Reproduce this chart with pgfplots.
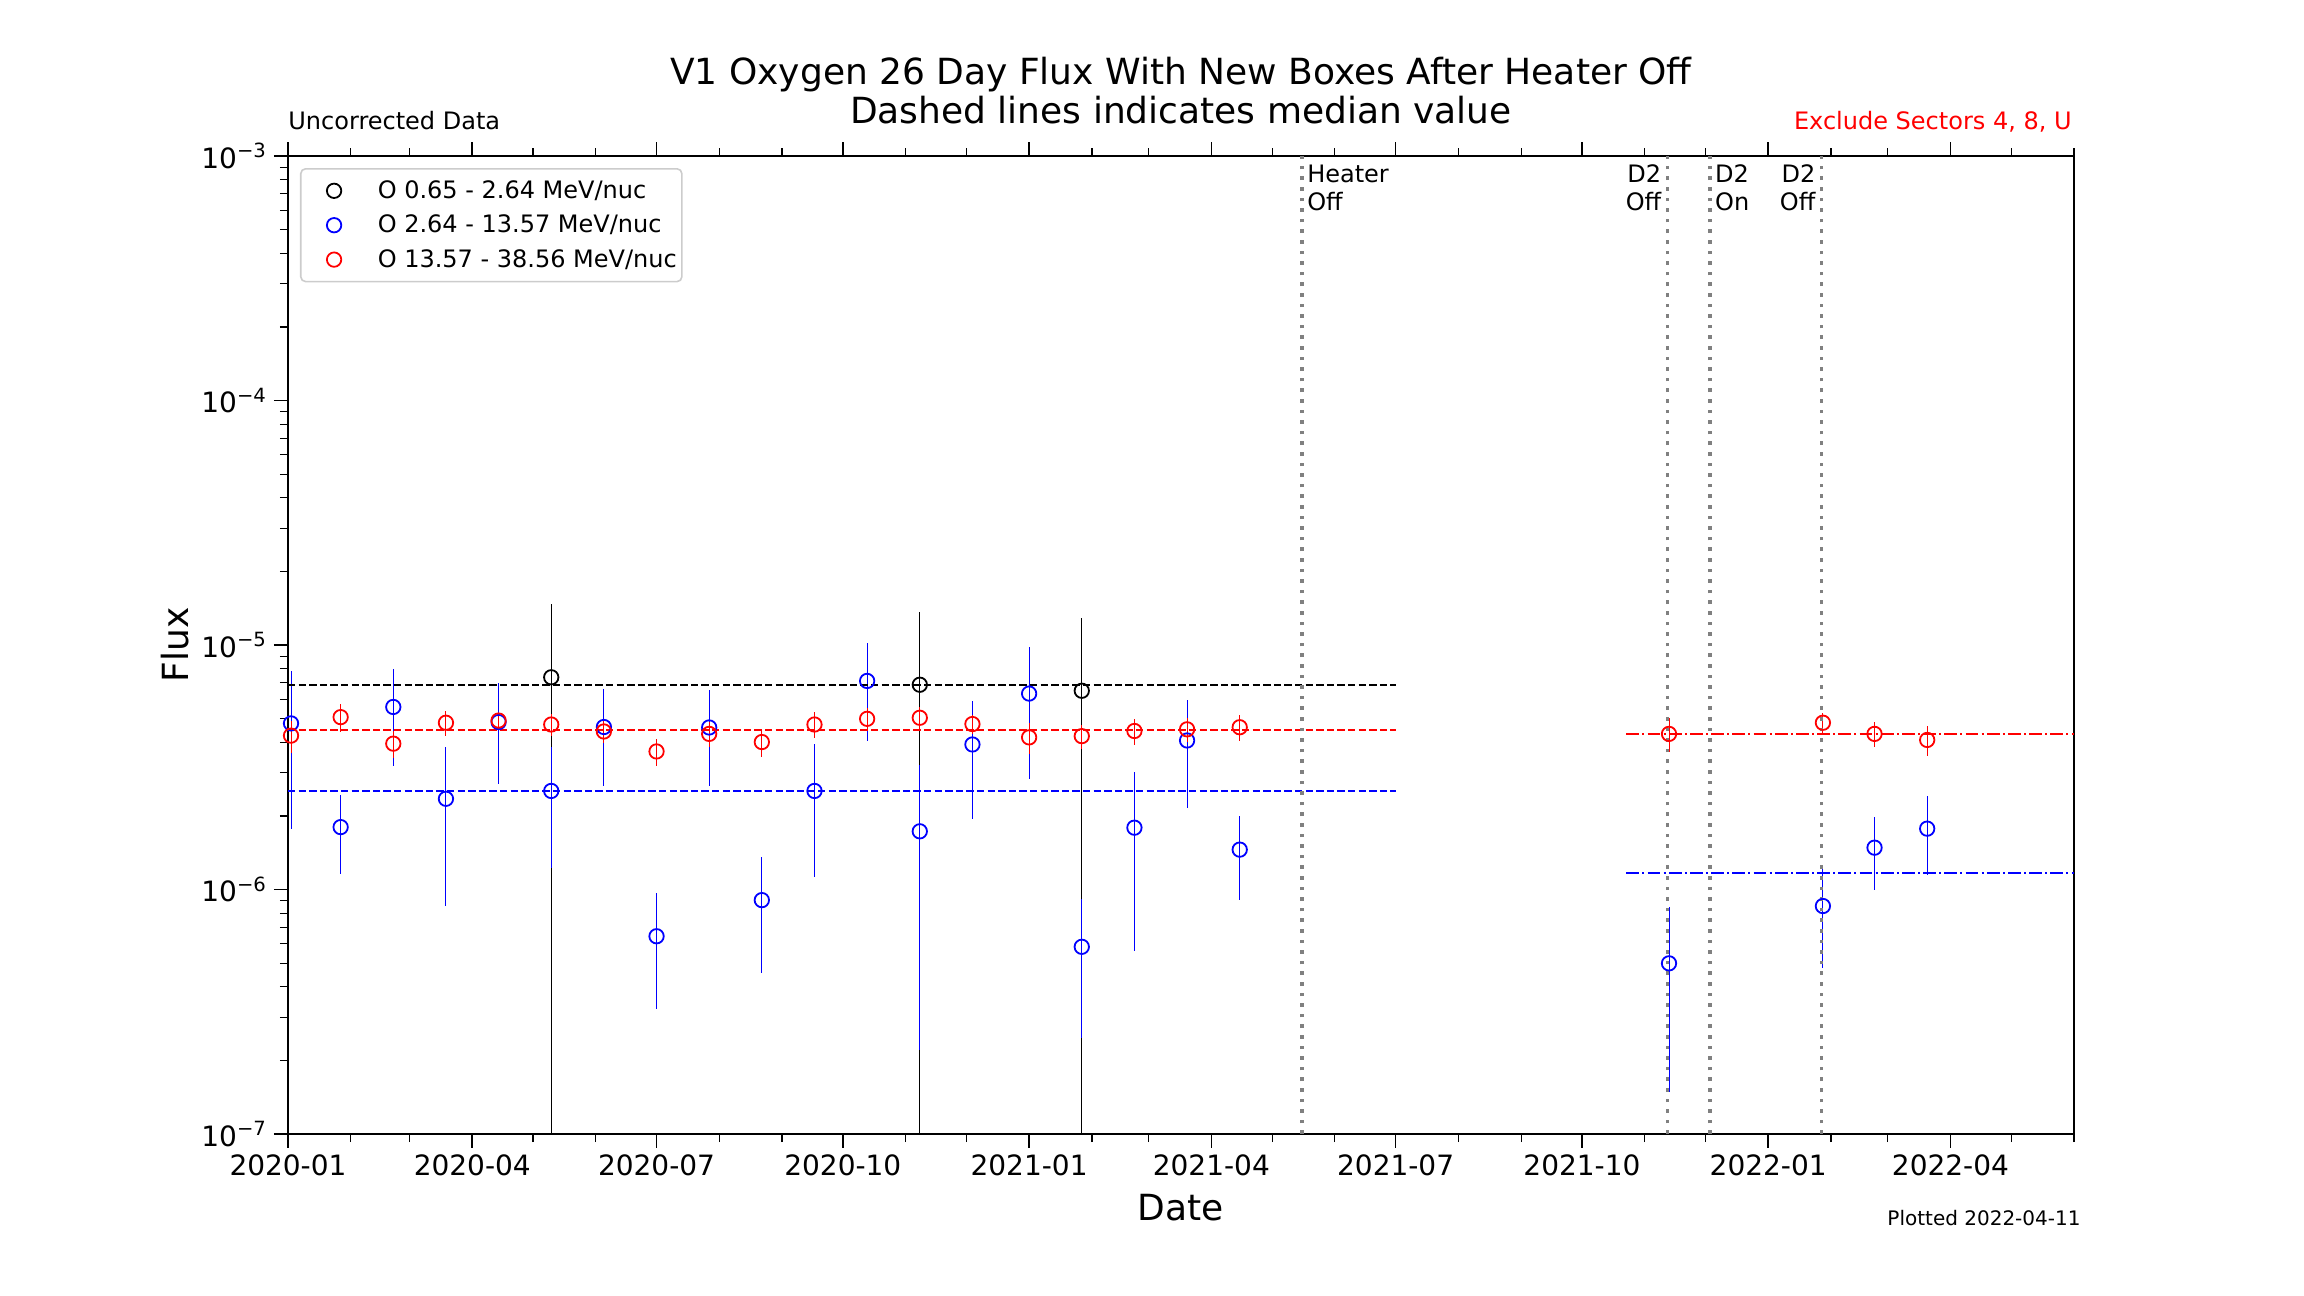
\documentclass[border=0pt]{standalone}
\usepackage{fontspec}
\setmainfont{DejaVu Sans}
\usepackage{pgfplots}
\pgfplotsset{compat=1.18}

\begin{document}
\begin{tikzpicture}
\path[use as bounding box] (-144pt,-81pt) rectangle (1008pt,567pt);
\begin{axis}[
  name=ax,
  at={(0pt,0pt)}, anchor=south west,
  width=893pt, height=489pt, scale only axis,
  xmin=0, xmax=882,
  ymode=log, ymin=1e-7, ymax=1e-3,
  xtick={0,91,182,274,366,456,547,639,731,821},
  xticklabels={2020-01,2020-04,2020-07,2020-10,2021-01,2021-04,2021-07,2021-10,2022-01,2022-04},
  minor xtick={31,60,121,152,213,244,305,335,397,425,486,517,578,609,670,700,762,790,851,882},
  ytick={1e-7,1e-6,1e-5,1e-4,1e-3},
  yticklabels={10\textsuperscript{−7},10\textsuperscript{−6},10\textsuperscript{−5},10\textsuperscript{−4},10\textsuperscript{−3}},
  xtick pos=both, ytick pos=left,
  tick align=outside,
  major tick length=7pt, minor tick length=4pt,
  major tick style={black, line width=0.8pt},
  minor tick style={black, line width=0.6pt},
  axis line style={black, line width=0.8pt},
  tick label style={font=\fontsize{14}{16}\selectfont},
  xlabel={Date},
  ylabel={Flux},
  every axis x label/.style={at={(axis description cs:0.5,0)}, anchor=base, yshift=-43pt, font=\fontsize{18}{20}\selectfont},
  every axis y label/.style={at={(axis description cs:0,0.5)}, xshift=-49.5pt, rotate=90, anchor=base, font=\fontsize{18}{20}\selectfont},
  legend style={
    at={(axis description cs:0,1)}, anchor=north west, xshift=6pt, yshift=-6pt,
    draw=black!20, line width=0.8pt, rounded corners=2.4pt, fill=white,
    inner xsep=2.5pt, inner ysep=5.5pt,
    row sep=6.2pt, column sep=0pt,
    font=\fontsize{12}{14}\selectfont,
    cells={anchor=west},
    nodes={inner sep=0pt},
  },
  legend image code/.code={
    \path[draw=none, fill=none] (0pt,-5.5pt) rectangle (36pt,5.5pt);
    \draw[#1, only marks] plot coordinates {(14.15pt,0pt)};
  },
  dat/.style={
    only marks, mark=o, mark size=3.6pt,
    mark options={solid, line width=0.9pt},
    error bars/y dir=both, error bars/y explicit,
    error bars/error mark=none,
    error bars/error bar style={#1, line width=0.5pt},
    #1,
  },
]

% black series
\addplot[dat=black] coordinates {
  (130,7.38e-6) +- (0,7.30e-6)
  (312,6.88e-6) +- (0,6.82e-6)
  (392,6.50e-6) +- (0,6.45e-6)
};
\addlegendentry{O 0.65 - 2.64 MeV/nuc}

% blue series
\addplot[dat=blue] coordinates {
  (1.5,4.78e-6) +- (0,3.02e-6)
  (26,1.80e-6) +- (0,0.64e-6)
  (52,5.58e-6) +- (0,2.38e-6)
  (78,2.35e-6) +- (0,1.49e-6)
  (104,4.84e-6) +- (0,2.14e-6)
  (130,2.53e-6) +- (0,1.30e-6)
  (156,4.62e-6) +- (0,1.96e-6)
  (182,6.44e-7) +- (0,3.2e-7)
  (208,4.60e-6) +- (0,1.95e-6)
  (234,9.05e-7) +- (0,4.5e-7)
  (260,2.53e-6) +- (0,1.41e-6)
  (286,7.13e-6) +- (0,3.08e-6)
  (312,1.73e-6) +- (0,1.51e-6)
  (338,3.92e-6) +- (0,1.97e-6)
  (366,6.33e-6) +- (0,3.50e-6)
  (392,5.83e-7) +- (0,3.35e-7)
  (418,1.79e-6) +- (0,1.23e-6)
  (444,4.07e-6) +- (0,1.91e-6)
  (470,1.456e-6) +- (0,5.5e-7)
  (682,4.99e-7) +- (0,3.5e-7)
  (758,8.56e-7) +- (0,3.8e-7)
  (783.5,1.483e-6) +- (0,4.9e-7)
  (809.5,1.774e-6) +- (0,6.3e-7)
};
\addlegendentry{O 2.64 - 13.57 MeV/nuc}

% red series
\addplot[dat=red] coordinates {
  (1.5,4.26e-6) +- (0,0.65e-6)
  (26,5.07e-6) +- (0,0.65e-6)
  (52,3.95e-6) +- (0,0.5e-6)
  (78,4.81e-6) +- (0,0.55e-6)
  (104,4.91e-6) +- (0,0.36e-6)
  (130,4.73e-6) +- (0,0.5e-6)
  (156,4.43e-6) +- (0,0.44e-6)
  (182,3.67e-6) +- (0,0.47e-6)
  (208,4.33e-6) +- (0,0.5e-6)
  (234,4.01e-6) +- (0,0.53e-6)
  (260,4.73e-6) +- (0,0.58e-6)
  (286,4.99e-6) +- (0,0.54e-6)
  (312,5.04e-6) +- (0,0.55e-6)
  (338,4.75e-6) +- (0,0.43e-6)
  (366,4.19e-6) +- (0,0.6e-6)
  (392,4.24e-6) +- (0,0.48e-6)
  (418,4.45e-6) +- (0,0.54e-6)
  (444,4.52e-6) +- (0,0.5e-6)
  (470,4.61e-6) +- (0,0.55e-6)
  (682,4.33e-6) +- (0,0.68e-6)
  (758,4.81e-6) +- (0,0.47e-6)
  (783.5,4.33e-6) +- (0,0.5e-6)
  (809.5,4.09e-6) +- (0,0.57e-6)
};
\addlegendentry{O 13.57 - 38.56 MeV/nuc}

% median lines
\addplot[forget plot, black, no marks, sharp plot, line width=1pt, dash pattern=on 3.7pt off 1.6pt] coordinates {(0,6.88e-6) (547,6.88e-6)};
\addplot[forget plot, blue, no marks, sharp plot, line width=1pt, dash pattern=on 3.7pt off 1.6pt] coordinates {(0,2.52e-6) (547,2.52e-6)};
\addplot[forget plot, red, no marks, sharp plot, line width=1pt, dash pattern=on 3.7pt off 1.6pt] coordinates {(0,4.49e-6) (547,4.49e-6)};
\addplot[forget plot, red, no marks, sharp plot, line width=1pt, dash pattern=on 6.4pt off 1.6pt on 1pt off 1.6pt] coordinates {(661,4.33e-6) (882,4.33e-6)};
\addplot[forget plot, blue, no marks, sharp plot, line width=1pt, dash pattern=on 6.4pt off 1.6pt on 1pt off 1.6pt] coordinates {(661,1.164e-6) (882,1.164e-6)};

% event lines
\addplot[forget plot, gray, no marks, sharp plot, line width=1.8pt, dash pattern=on 1.8pt off 3.5pt] coordinates {(500.7,1e-7) (500.7,1e-3)};
\addplot[forget plot, gray, no marks, sharp plot, line width=1.8pt, dash pattern=on 1.8pt off 3.5pt] coordinates {(681.3,1e-7) (681.3,1e-3)};
\addplot[forget plot, gray, no marks, sharp plot, line width=1.8pt, dash pattern=on 1.8pt off 3.5pt] coordinates {(702.1,1e-7) (702.1,1e-3)};
\addplot[forget plot, gray, no marks, sharp plot, line width=1.8pt, dash pattern=on 1.8pt off 3.5pt] coordinates {(757.4,1e-7) (757.4,1e-3)};

\begin{scope}[every node/.style={inner sep=0pt, font=\fontsize{12}{14}\selectfont}]
\node[anchor=base west, xshift=2.5pt, yshift=-13.2pt] at (axis cs:500.7,1e-3) {Heater};
\node[anchor=base west, xshift=2.5pt, yshift=-27pt] at (axis cs:500.7,1e-3) {Off};
\node[anchor=base east, xshift=-3pt, yshift=-13.2pt] at (axis cs:681.3,1e-3) {D2};
\node[anchor=base east, xshift=-3pt, yshift=-27pt] at (axis cs:681.3,1e-3) {Off};
\node[anchor=base west, xshift=2.5pt, yshift=-13.2pt] at (axis cs:702.1,1e-3) {D2};
\node[anchor=base west, xshift=2.5pt, yshift=-27pt] at (axis cs:702.1,1e-3) {On};
\node[anchor=base east, xshift=-3pt, yshift=-13.2pt] at (axis cs:757.4,1e-3) {D2};
\node[anchor=base east, xshift=-3pt, yshift=-27pt] at (axis cs:757.4,1e-3) {Off};
\end{scope}
\end{axis}

\node[anchor=base, inner sep=0pt, font=\fontsize{18}{20}\selectfont] at ([yshift=35.5pt]ax.north) {V1 Oxygen 26 Day Flux With New Boxes After Heater Off};
\node[anchor=base, inner sep=0pt, font=\fontsize{18}{20}\selectfont] at ([yshift=16.35pt]ax.north) {Dashed lines indicates median value};
\node[anchor=base west, inner sep=0pt, font=\fontsize{12}{14}\selectfont] at ([yshift=13pt]ax.north west) {Uncorrected Data};
\node[anchor=base east, inner sep=0pt, text=red, font=\fontsize{12}{14}\selectfont] at ([yshift=13pt, xshift=-1pt]ax.north east) {Exclude Sectors 4, 8, U};
\node[anchor=base east, inner sep=0pt, font=\fontsize{10}{12}\selectfont] at ([yshift=-45.9pt, xshift=3.5pt]ax.south east) {Plotted 2022-04-11};
\end{tikzpicture}
\end{document}
